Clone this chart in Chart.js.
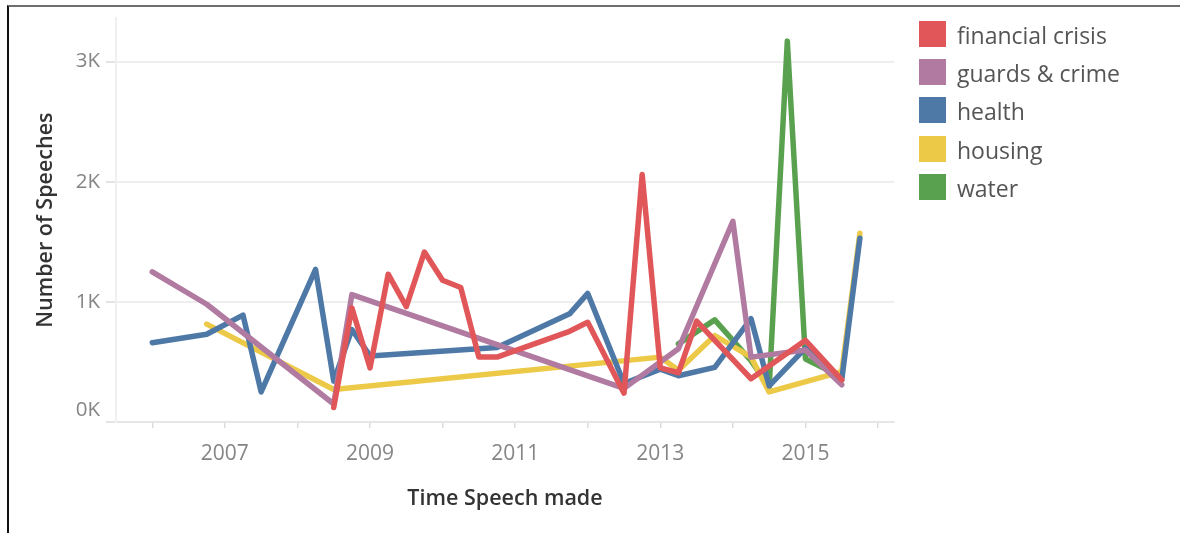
<!DOCTYPE html>
<html>
<head>
<meta charset="utf-8">
<script src="https://cdn.jsdelivr.net/npm/chart.js@4.4.1/dist/chart.umd.min.js"></script>
<style>
  body { margin: 0; background: #fff; }
  #wrap { position: relative; width: 1184px; height: 533px; overflow: hidden; }
  #frame { position: absolute; left: 7px; top: 5px; width: 1171px; height: 540px;
           border-left: 2px solid #111; border-top: 2px solid #6e6e6e; }
  #legend { position: absolute; left: 919px; top: 21px; font-family: "Open Sans", sans-serif; }
  .item { position: relative; height: 26px; margin-bottom: 12.2px; }
  .swatch { position: absolute; left: 0; top: 0; width: 27px; height: 26px; }
  .label { position: absolute; left: 38px; top: 1px; line-height: 26px; font-size: 23px; color: #555; white-space: nowrap; }
</style>
</head>
<body>
<div id="wrap">
  <canvas id="myChart" width="1184" height="533"></canvas>
  <div id="frame"></div>
  <div id="legend"></div>
</div>
<script>
// quarters as "YYYY-Qn", values = number of speeches
var financialCrisisDates = ['2008-Q3','2008-Q4','2009-Q1','2009-Q2','2009-Q3','2009-Q4','2010-Q1','2010-Q2','2010-Q3','2010-Q4','2011-Q4','2012-Q1','2012-Q3','2012-Q4','2013-Q1','2013-Q2','2013-Q3','2014-Q2','2015-Q1','2015-Q3'];
var financialCrisisValues = [120, 950, 450, 1230, 960, 1415, 1180, 1120, 540, 540, 755, 830, 240, 2060, 450, 410, 840, 360, 680, 350];

var guardsCrimeDates = ['2006-Q1','2006-Q4','2008-Q3','2008-Q4','2012-Q3','2013-Q2','2014-Q1','2014-Q2','2015-Q1','2015-Q3'];
var guardsCrimeValues = [1250, 980, 150, 1060, 280, 610, 1670, 540, 600, 310];

var healthDates = ['2006-Q1','2006-Q4','2007-Q2','2007-Q3','2008-Q2','2008-Q3','2008-Q4','2009-Q1','2010-Q4','2011-Q4','2012-Q1','2012-Q3','2013-Q1','2013-Q2','2013-Q4','2014-Q2','2014-Q3','2015-Q1','2015-Q3','2015-Q4'];
var healthValues = [660, 730, 890, 250, 1270, 340, 770, 550, 620, 900, 1070, 320, 440, 385, 455, 860, 300, 615, 350, 1530];

var housingDates = ['2006-Q4','2008-Q3','2013-Q1','2013-Q2','2013-Q4','2014-Q2','2014-Q3','2015-Q3','2015-Q4'];
var housingValues = [815, 270, 540, 430, 720, 540, 250, 420, 1570];

var waterDates = ['2013-Q2','2013-Q4','2014-Q2','2014-Q3','2014-Q4','2015-Q1','2015-Q3'];
var waterValues = [650, 850, 510, 290, 3170, 525, 375];

var topics = ['financial crisis', 'guards & crime', 'health', 'housing', 'water'];
var colors = ['#e15759', '#b07aa1', '#4e79a7', '#edc948', '#59a14f'];

var yearTicks = [2006, 2007, 2008, 2009, 2010, 2011, 2012, 2013, 2014, 2015, 2016];
var yearLabels = ['', '2007', '', '2009', '', '2011', '', '2013', '', '2015', ''];
var countTicks = [0, 1000, 2000, 3000];

function toYear(q) {
  var parts = q.split('-Q');
  return parseInt(parts[0]) + (parseInt(parts[1]) - 1) / 4;
}

function points(dates, values) {
  return dates.map(function(d, i) { return { x: toYear(d), y: values[i] }; });
}

var series = [
  points(financialCrisisDates, financialCrisisValues),
  points(guardsCrimeDates, guardsCrimeValues),
  points(healthDates, healthValues),
  points(housingDates, housingValues),
  points(waterDates, waterValues)
];

var datasets = topics.map(function(t, i) {
  return {
    label: t,
    data: series[i],
    borderColor: colors[i],
    backgroundColor: colors[i],
    borderWidth: 5.5,
    borderJoinStyle: 'round',
    borderCapStyle: 'round',
    pointRadius: 0,
    tension: 0
  };
});

// legend
var legend = document.getElementById('legend');
topics.forEach(function(t, i) {
  var row = document.createElement('div');
  row.className = 'item';
  row.innerHTML = '<div class="swatch" style="background:' + colors[i] + '"></div><div class="label"></div>';
  row.querySelector('.label').textContent = t;
  legend.appendChild(row);
});

// tableau lifts the bottom axis label a little
var liftZeroLabel = {
  id: 'liftZeroLabel',
  afterLayout: function(chart) {
    var items = chart.scales.y.getLabelItems();
    if (items.length) items[0].options.translation[1] -= 12;
  }
};

var font = '"Open Sans", sans-serif';
var ctx = document.getElementById('myChart').getContext('2d');
var chart = new Chart(ctx, {
  type: 'line',
  data: { datasets: datasets },
  plugins: [liftZeroLabel],
  options: {
    responsive: false,
    animation: false,
    layout: { padding: { left: 0, top: 15, right: 290, bottom: 0 } },
    plugins: { legend: { display: false }, tooltip: { enabled: false } },
    scales: {
      x: {
        type: 'linear',
        min: 2005.5,
        max: 2016.22,
        afterFit: function(scale) { scale.height = 111; },
        afterBuildTicks: function(scale) {
          scale.ticks = yearTicks.map(function(v) { return { value: v }; });
        },
        ticks: {
          autoSkip: false,
          maxRotation: 0,
          padding: 13,
          color: '#858585',
          font: { family: font, size: 21 },
          callback: function(v) { return yearLabels[yearTicks.indexOf(v)]; }
        },
        grid: { drawOnChartArea: false, tickLength: 6, tickColor: '#dcdcdc', lineWidth: 1.5 },
        border: { color: '#e6e6e6', width: 2 },
        title: {
          display: true,
          text: 'Time Speech made',
          color: '#333',
          font: { family: font, size: 21.5, weight: '600' },
          padding: { top: 0, bottom: 21 }
        }
      },
      y: {
        min: 0,
        max: 3360,
        afterFit: function(scale) { scale.width = 116; },
        afterBuildTicks: function(scale) {
          scale.ticks = countTicks.map(function(v) { return { value: v }; });
        },
        ticks: {
          padding: 6,
          color: '#858585',
          font: { family: font, size: 20.5 },
          callback: function(v) { return (v / 1000) + 'K'; }
        },
        grid: { color: '#eeeeee', lineWidth: 2, tickLength: 10, tickColor: '#e4e4e4' },
        border: { color: '#f0f0f0', width: 2 },
        title: {
          display: true,
          text: 'Number of Speeches',
          color: '#333',
          font: { family: font, size: 21.5, weight: '600' },
          padding: { top: 33, bottom: 0 }
        }
      }
    }
  }
});
</script>
</body>
</html>
